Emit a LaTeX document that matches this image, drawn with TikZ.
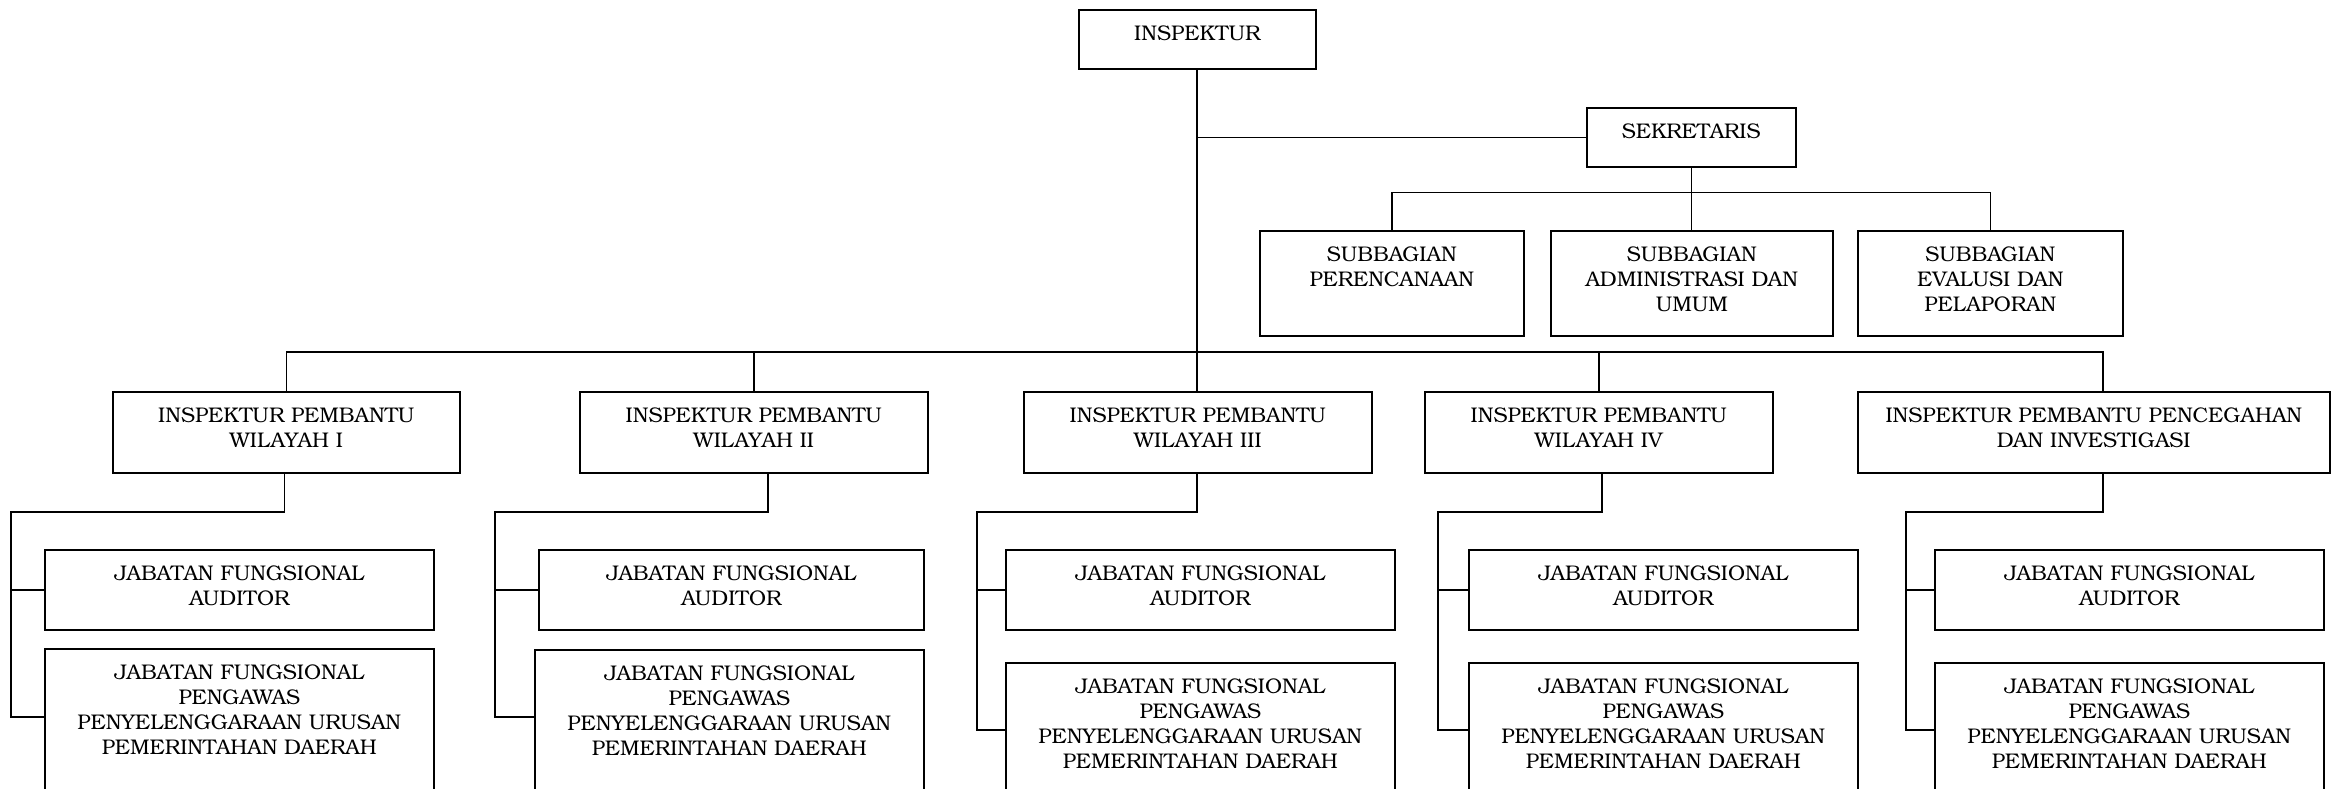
\documentclass[tikz,border=0pt]{standalone}
\usepackage{fontspec}
\setmainfont{TeX Gyre Bonum}
\usetikzlibrary{calc}
\tikzset{
  obox/.style={draw, line width=0.8pt, inner sep=0pt, anchor=north west,
    font=\fontsize{10.6}{12.5}\selectfont},
  conn/.style={line width=0.8pt}
}
\newcommand{\obox}[6]{%
  \node[obox] (#1) at (#2,#3) {\parbox[t][\dimexpr(#5pt-#3pt)/2\relax][t]{\dimexpr(#4pt-#2pt)/2\relax}{\centering\rule{0pt}{15.25pt}#6\par}};}
\begin{document}
\begin{tikzpicture}[x=0.5pt,y=-0.5pt]
\useasboundingbox (0,0) rectangle (2341,788);
\clip (0,0) rectangle (2341,788);
\fill[white] (0,0) rectangle (2341,788);
% top level
\obox{insp}{1078}{9}{1315}{68}{INSPEKTUR}
\obox{sek}{1586}{107}{1795}{166}{SEKRETARIS}
\obox{sp}{1259}{230}{1523}{335}{SUBBAGIAN\\PERENCANAAN}
\obox{sa}{1550}{230}{1832}{335}{SUBBAGIAN\\ADMINISTRASI DAN\\UMUM}
\obox{se}{1857}{230}{2122}{335}{SUBBAGIAN\\EVALUSI DAN\\PELAPORAN}
% inspektur pembantu
\obox{w1}{112}{391}{459}{472}{INSPEKTUR PEMBANTU\\WILAYAH I}
\obox{w2}{579}{391}{927}{472}{INSPEKTUR PEMBANTU\\WILAYAH II}
\obox{w3}{1023}{391}{1371}{472}{INSPEKTUR PEMBANTU\\WILAYAH III}
\obox{w4}{1424}{391}{1772}{472}{INSPEKTUR PEMBANTU\\WILAYAH IV}
\obox{pc}{1857}{391}{2329}{472}{INSPEKTUR PEMBANTU PENCEGAHAN\\DAN INVESTIGASI}
% auditor
\obox{a1}{44}{549}{433}{629}{JABATAN FUNGSIONAL\\AUDITOR}
\obox{a2}{538}{549}{923}{629}{JABATAN FUNGSIONAL\\AUDITOR}
\obox{a3}{1005}{549}{1394}{629}{JABATAN FUNGSIONAL\\AUDITOR}
\obox{a4}{1468}{549}{1857}{629}{JABATAN FUNGSIONAL\\AUDITOR}
\obox{a5}{1934}{549}{2323}{629}{JABATAN FUNGSIONAL\\AUDITOR}
% pengawas
\obox{g1}{44}{648}{433}{830}{JABATAN FUNGSIONAL\\PENGAWAS\\PENYELENGGARAAN URUSAN\\PEMERINTAHAN DAERAH}
\obox{g2}{534}{649}{923}{830}{JABATAN FUNGSIONAL\\PENGAWAS\\PENYELENGGARAAN URUSAN\\PEMERINTAHAN DAERAH}
\obox{g3}{1005}{662}{1394}{830}{JABATAN FUNGSIONAL\\PENGAWAS\\PENYELENGGARAAN URUSAN\\PEMERINTAHAN DAERAH}
\obox{g4}{1468}{662}{1857}{830}{JABATAN FUNGSIONAL\\PENGAWAS\\PENYELENGGARAAN URUSAN\\PEMERINTAHAN DAERAH}
\obox{g5}{1934}{662}{2323}{830}{JABATAN FUNGSIONAL\\PENGAWAS\\PENYELENGGARAAN URUSAN\\PEMERINTAHAN DAERAH}
% upper connectors
\coordinate (trunk) at ($(insp.south)+(-0.5,0)$);
\coordinate (sbus) at ($(sek.south)+(0,25)$);
\coordinate (mbus) at (1196,352);
\coordinate (pctop) at ($(pc.north)+(9,0)$);
\draw[conn] (trunk) -- (trunk |- w3.north);
\draw[conn] (trunk |- sek.west) -- (sek.west);
\draw[conn] (sek.south) -- (sek.south |- sa.north);
\draw[conn] (sp.north) |- (sbus) -| (se.north);
\draw[conn] (w1.north) |- (mbus);
\draw[conn] (mbus) -| (pctop);
\draw[conn] (w2.north) -- (w2.north |- mbus);
\draw[conn] (w4.north) -- (w4.north |- mbus);
% lower connectors
\coordinate (k1) at (11,512);
\coordinate (k2) at (495,512);
\coordinate (k3) at (977,512);
\coordinate (k4) at (1438,512);
\coordinate (k5) at (1906,512);
\coordinate (d1) at ($(w1.south)+(-2,0)$);
\coordinate (d2) at ($(w2.south)+(14,0)$);
\coordinate (d3) at ($(w3.south)+(-1,0)$);
\coordinate (d4) at ($(w4.south)+(3,0)$);
\coordinate (d5) at ($(pc.south)+(9,0)$);
\coordinate (p1) at ($(g1.north west)+(0,69)$);
\coordinate (p2) at ($(g2.north west)+(0,68)$);
\coordinate (p3) at ($(g3.north west)+(0,68)$);
\coordinate (p4) at ($(g4.north west)+(0,68)$);
\coordinate (p5) at ($(g5.north west)+(0,68)$);
\foreach \i in {1,...,5}{
  \draw[conn] (d\i) |- (k\i) -- (k\i |- p\i) -- (p\i);
  \draw[conn] (k\i |- a\i.west) -- (a\i.west);
}
\end{tikzpicture}
\end{document}
